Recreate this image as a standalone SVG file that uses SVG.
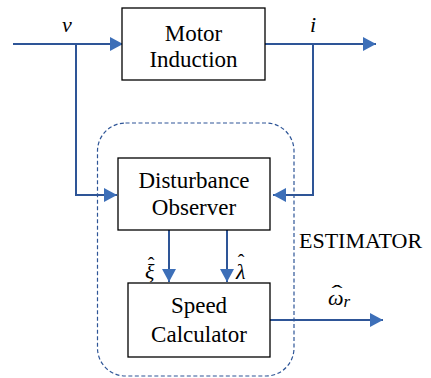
<svg xmlns="http://www.w3.org/2000/svg" width="431" height="378" viewBox="0 0 431 378">
<defs>
<marker id="ah" viewBox="0 0 13 14" refX="13" refY="7" markerWidth="13" markerHeight="14" markerUnits="userSpaceOnUse" orient="auto">
<path d="M0,0 L13,7 L0,14 Z" fill="#3D6FB8"/>
</marker>
</defs>
<rect x="0" y="0" width="431" height="378" fill="#fff"/>
<g id="estimator">
<rect x="97.5" y="123" width="196.5" height="253" rx="28" ry="28" fill="none" stroke="#2E5597" stroke-width="1.2" stroke-dasharray="4,2.5"/>
<text x="299" y="248" font-family="Liberation Serif" font-size="22" fill="#000">ESTIMATOR</text>
</g>
<g id="connectors" fill="none" stroke="#2E5597" stroke-width="2">
<path d="M13,44 H123" marker-end="url(#ah)"/>
<path d="M76,44 V195 H117" marker-end="url(#ah)"/>
<path d="M265,44 H376" marker-end="url(#ah)"/>
<path d="M313,44 V195 H273" marker-end="url(#ah)"/>
<path d="M169,230 V282" marker-end="url(#ah)"/>
<path d="M227,230 V282" marker-end="url(#ah)"/>
<path d="M270,320 H383" marker-end="url(#ah)"/>
</g>
<g id="labels" fill="#000">
<text x="62" y="32" font-family="Liberation Serif" font-size="22" font-style="italic">v</text>
<text x="310" y="32" font-family="Liberation Serif" font-size="22" font-style="italic">i</text>
<text x="145" y="279" font-family="Liberation Serif" font-size="22" font-style="italic">ξ</text>
<text x="151" y="272" font-family="Liberation Serif" font-size="20" text-anchor="middle">ˆ</text>
<text x="236" y="279" font-family="Liberation Serif" font-size="22" font-style="italic">λ</text>
<text x="241" y="269" font-family="Liberation Serif" font-size="20" text-anchor="middle">ˆ</text>
<text x="328" y="305" font-family="Liberation Serif" font-size="22" font-style="italic">ω<tspan font-size="17" dy="2">r</tspan></text>
<text x="337" y="300" font-family="Liberation Serif" font-size="22" text-anchor="middle" transform="translate(337 0) scale(1.5 1) translate(-337 0)">ˆ</text>
</g>
<g id="motor">
<rect x="122" y="8" width="143" height="72" fill="#fff" stroke="#000" stroke-width="1.3"/>
<text x="193.5" y="41" font-family="Liberation Serif" font-size="23" text-anchor="middle">Motor</text>
<text x="193.5" y="67" font-family="Liberation Serif" font-size="23" text-anchor="middle">Induction</text>
</g>
<g id="observer">
<rect x="118" y="158" width="152" height="72" fill="#fff" stroke="#000" stroke-width="1.3"/>
<text x="194" y="188" font-family="Liberation Serif" font-size="23" text-anchor="middle">Disturbance</text>
<text x="194" y="215" font-family="Liberation Serif" font-size="23" text-anchor="middle">Observer</text>
</g>
<g id="speed">
<rect x="128" y="283" width="142" height="74" fill="#fff" stroke="#000" stroke-width="1.3"/>
<text x="199" y="313" font-family="Liberation Serif" font-size="23" text-anchor="middle">Speed</text>
<text x="199" y="342" font-family="Liberation Serif" font-size="23" text-anchor="middle">Calculator</text>
</g>
</svg>
